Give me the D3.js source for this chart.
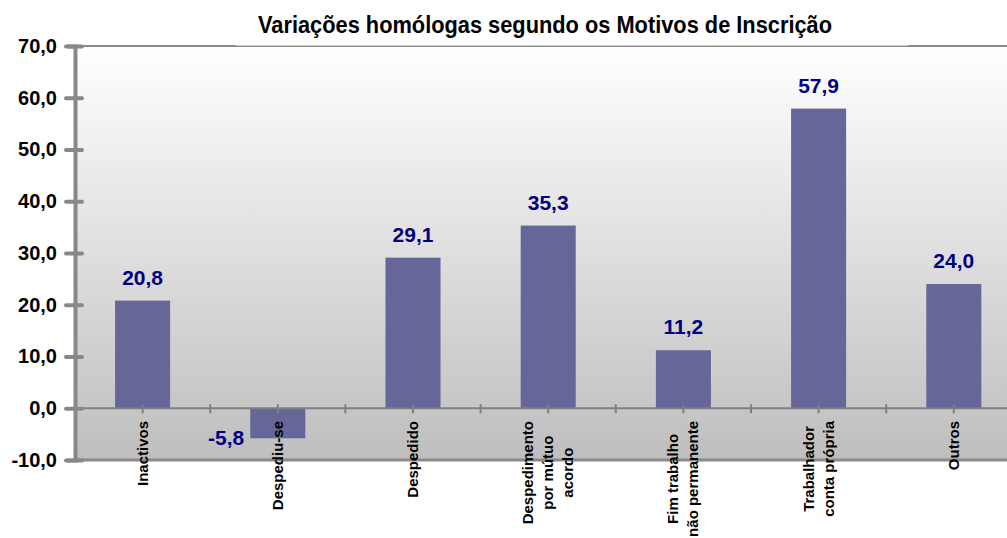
<!DOCTYPE html>
<html>
<head>
<meta charset="utf-8">
<script src="https://cdn.jsdelivr.net/npm/d3@7"></script>
<style>
  html, body { margin: 0; padding: 0; background: #fff; }
  svg { display: block; font-family: "Liberation Sans", Arial, sans-serif; }
</style>
</head>
<body>
<svg id="chart"></svg>
<script>
// chart data
const categories = ['Inactivos', 'Despediu-se', 'Despedido', 'Despedimento\npor mútuo\nacordo',
  'Fim trabalho\nnão permanente', 'Trabalhador\nconta própria', 'Outros'];
const values = [20.8, -5.8, 29.1, 35.3, 11.2, 57.9, 24.0];
const yTicks = [-10, 0, 10, 20, 30, 40, 50, 60, 70];
const title = 'Variações homólogas segundo os Motivos de Inscrição';

const width = 1007, height = 538;
const plotLeft = 75, plotTop = 46, plotBottom = 460;
const bandW = 135.2;
const plotRight = plotLeft + bandW * categories.length;

const fmt = v => d3.format('.1f')(v).replace('.', ',').replace('\u2212', '-');

const svg = d3.select('#chart')
  .attr('width', width)
  .attr('height', height);

const defs = svg.append('defs');
const grad = defs.append('linearGradient')
  .attr('id', 'bg')
  .attr('x1', 0).attr('y1', 0).attr('x2', 0).attr('y2', 1);
grad.append('stop').attr('offset', '0%').attr('stop-color', '#ffffff');
grad.append('stop').attr('offset', '100%').attr('stop-color', '#bebebe');

const x = d3.scaleBand()
  .domain(categories)
  .range([plotLeft, plotRight])
  .padding(0);

const y = d3.scaleLinear()
  .domain([-10, 70])
  .range([plotBottom, plotTop]);

// plot background
svg.append('rect')
  .attr('x', plotLeft)
  .attr('y', plotTop)
  .attr('width', plotRight - plotLeft)
  .attr('height', plotBottom - plotTop)
  .attr('fill', 'url(#bg)');

// top and bottom border
svg.append('line')
  .attr('x1', plotLeft).attr('x2', plotRight)
  .attr('y1', plotTop).attr('y2', plotTop)
  .attr('stroke', '#8a8a8a').attr('stroke-width', 2);
svg.append('line')
  .attr('x1', plotLeft).attr('x2', plotRight)
  .attr('y1', plotBottom).attr('y2', plotBottom)
  .attr('stroke', '#8a8a8a').attr('stroke-width', 3);

// bars
const barW = bandW * 0.407;
svg.append('g').selectAll('rect')
  .data(values)
  .enter().append('rect')
  .attr('x', (d, i) => x(categories[i]) + (bandW - barW) / 2)
  .attr('y', d => y(Math.max(0, d)))
  .attr('width', barW)
  .attr('height', d => Math.abs(y(d) - y(0)))
  .attr('fill', '#666699');

// zero line with ticks at centers and boundaries
const zeroY = y(0);
svg.append('line')
  .attr('x1', plotLeft).attr('x2', plotRight)
  .attr('y1', zeroY).attr('y2', zeroY)
  .attr('stroke', '#808080').attr('stroke-width', 2);

const tickXs = [];
categories.forEach((c, i) => {
  if (i > 0) tickXs.push(x(c));
  tickXs.push(x(c) + bandW / 2);
});
svg.append('g').selectAll('line')
  .data(tickXs)
  .enter().append('line')
  .attr('x1', d => d).attr('x2', d => d)
  .attr('y1', zeroY - 4).attr('y2', zeroY + 5)
  .attr('stroke', '#808080').attr('stroke-width', 2);

// y axis
const yAxis = d3.axisLeft(y)
  .tickValues(yTicks)
  .tickSize(8)
  .tickPadding(10)
  .tickFormat(fmt);

const yg = svg.append('g')
  .attr('transform', `translate(${plotLeft},0)`)
  .call(yAxis);
yg.select('.domain')
  .attr('stroke', '#888').attr('stroke-width', 4);
yg.selectAll('.tick line')
  .attr('x2', -9).attr('x1', 7)
  .attr('stroke', '#888').attr('stroke-width', 4)
  .attr('stroke-linecap', 'round');
yg.selectAll('.tick text')
  .attr('x', -18)
  .attr('fill', '#000')
  .style('font-size', '20px')
  .style('font-weight', 'bold')
  .style('font-family', '"Liberation Sans", Arial, sans-serif');

// data labels
svg.append('g').selectAll('text')
  .data(values)
  .enter().append('text')
  .attr('x', (d, i) => d >= 0 ? x(categories[i]) + bandW / 2 : x(categories[i]) + (bandW - barW) / 2 - 6)
  .attr('y', d => d >= 0 ? y(d) - 16 : y(d) + 7)
  .attr('text-anchor', d => d >= 0 ? 'middle' : 'end')
  .attr('fill', '#000080')
  .style('font-size', '21px')
  .style('font-weight', 'bold')
  .text(d => fmt(d));

// category labels (rotated, multi-line centered)
const lineGap = 20;
categories.forEach(c => {
  const lines = c.split('\n');
  const cx = x(c) + bandW / 2;
  const g = svg.append('g');
  const texts = lines.map((ln, j) => g.append('text')
    .attr('text-anchor', 'middle')
    .style('font-size', '15px')
    .style('font-weight', 'bold')
    .attr('fill', '#000')
    .text(ln));
  const maxLen = d3.max(texts, t => t.node().getComputedTextLength());
  const midY = 421 + maxLen / 2;
  texts.forEach((t, j) => {
    const lx = cx + 5 + (j - (lines.length - 1) / 2) * lineGap;
    t.attr('transform', `translate(${lx},${midY}) rotate(-90)`);
  });
});

// title with white box
svg.append('rect')
  .attr('x', 236).attr('y', 0)
  .attr('width', 672).attr('height', 45.6)
  .attr('fill', '#fff');
svg.append('text')
  .attr('x', 545)
  .attr('y', 33)
  .attr('text-anchor', 'middle')
  .attr('textLength', 574)
  .attr('lengthAdjust', 'spacingAndGlyphs')
  .style('font-size', '23px')
  .style('font-weight', 'bold')
  .attr('fill', '#000')
  .text(title);
</script>
</body>
</html>
